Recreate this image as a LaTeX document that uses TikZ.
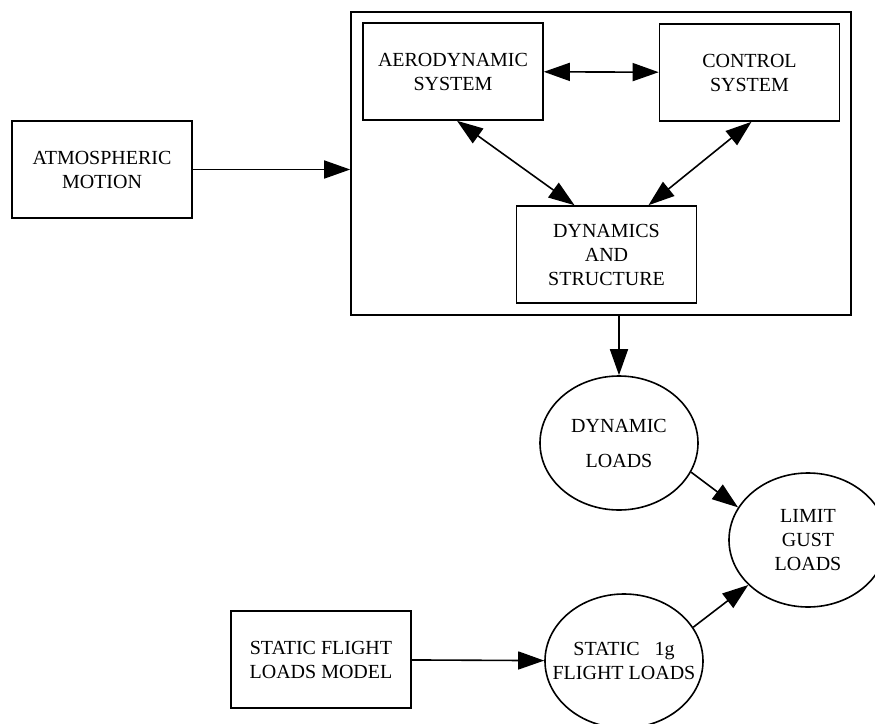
\documentclass[tikz,border=0pt]{standalone}
\usepackage{fontspec}
\setmainfont{Liberation Serif}
\usetikzlibrary{arrows.meta,shapes.geometric}

\begin{document}
\begin{tikzpicture}[x=0.5pt,y=-0.5pt,
    sysbox/.style={draw,line width=0.8pt,minimum width=90pt,minimum height=48.5pt,inner sep=0pt,align=center},
    loadell/.style={draw,ellipse,line width=0.8pt,minimum width=79pt,minimum height=67pt,inner sep=0pt},
    flow/.style={line width=0.8pt,-{Triangle[length=13pt,width=9pt]}},
    both/.style={line width=0.8pt,{Triangle[length=13pt,width=9pt]}-{Triangle[length=13pt,width=9pt]}}]

    % Page
    \useasboundingbox (0,0) rectangle (875,724);

    % Outer system box
    \node[draw,line width=0.8pt,minimum width=250pt,minimum height=151.5pt,inner sep=0pt] (outer) at (601,163.5) {};

    % Rectangular blocks
    \node[sysbox] (aero) at (453,71.5) {AERODYNAMIC\\SYSTEM};
    \node[sysbox] (ctrl) at (749.5,72.5) {CONTROL\\SYSTEM};
    \node[sysbox] (dyn) at (606.5,254.5) {DYNAMICS\\AND\\STRUCTURE};
    \node[sysbox] (atmos) at (102,169.5) {ATMOSPHERIC\\MOTION};
    \node[sysbox] (sfl) at (321,659.5) {STATIC FLIGHT\\LOADS MODEL};

    % Load ellipses
    \node[loadell,label={[align=center]center:{DYNAMIC\\[5.5pt]LOADS}}] (dynload) at (619,443) {};
    \node[loadell,label={[align=center]center:{LIMIT\\GUST\\LOADS}}] (limit) at (808,540) {};
    \node[loadell,label={[align=center]center:{STATIC\ \ \ 1g\\FLIGHT LOADS}}] (static) at (624,661) {};

    % Coupling inside the system
    \draw[both] (aero) -- (ctrl);
    \draw[both] ([xshift=2pt]aero.south) -- ([xshift=-16pt]dyn.north);
    \draw[both] ([xshift=1pt]ctrl.south) -- ([xshift=21pt]dyn.north);

    % Flow of loads
    \draw[flow] (atmos) -- (atmos -| outer.west);
    \draw[flow] (outer.south -| dynload.north) -- (dynload);
    \draw[flow] (dynload.-22) -- (limit.155);
    \draw[flow] (static.26) -- (limit.-143);
    \draw[flow] (sfl) -- (static);

\end{tikzpicture}
\end{document}
